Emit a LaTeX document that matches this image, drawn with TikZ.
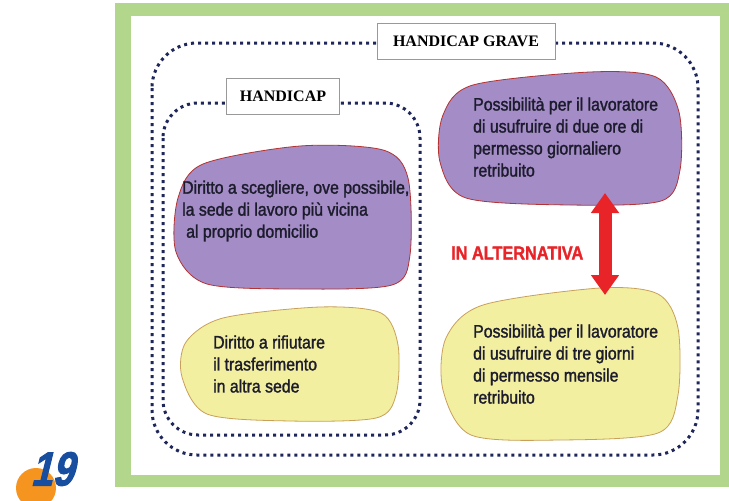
\documentclass[tikz,border=0pt]{standalone}
\usepackage{fontspec}
\setmainfont{Liberation Serif}
\newfontfamily\blobfont[FakeStretch=0.88,FakeBold=1.5]{Liberation Sans}
\newfontfamily\badgefont[FakeStretch=0.8,FakeSlant=0.25,FakeBold=2]{Liberation Sans}
\usetikzlibrary{arrows.meta,positioning}
\definecolor{framegreen}{RGB}{178,214,140}
\definecolor{navy}{RGB}{30,38,90}
\definecolor{lilac}{RGB}{164,140,198}
\definecolor{lilacedge}{RGB}{180,50,50}
\definecolor{cream}{RGB}{243,239,160}
\definecolor{creamedge}{RGB}{200,160,90}
\definecolor{altred}{RGB}{232,36,40}
\definecolor{ink}{RGB}{28,28,45}
\definecolor{badgeblue}{RGB}{24,78,160}
\definecolor{badgeorange}{RGB}{245,148,30}
\tikzstyle{dotline} = [draw=navy, line width=3pt, dash pattern=on 3pt off 4pt]
\tikzstyle{grouptag} = [draw=gray!80, fill=white, line width=0.8pt, text=black, font=\bfseries\fontsize{16}{16}\selectfont, minimum height=36pt, inner xsep=10pt]
\tikzstyle{purpleblob} = [draw=lilacedge, fill=lilac, line width=0.8pt]
\tikzstyle{yellowblob} = [draw=creamedge, fill=cream, line width=0.8pt]
\tikzstyle{blobtext} = [anchor=west, align=left, inner sep=0pt, text=ink, font=\blobfont\fontsize{18}{22}\selectfont]
\tikzstyle{twoway} = [draw=altred, line width=13pt, {Triangle[length=20pt,width=27pt]}-{Triangle[length=20pt,width=27pt]}]

\begin{document}
\begin{tikzpicture}[x=1pt, y=-1pt]
\useasboundingbox (0,0) rectangle (729,501);

% frame =============================
\fill[framegreen] (115,3) rectangle (729,487);
\fill[white] (131,16) rectangle (720,475);

% groups
\draw[dotline, rounded corners=45pt] (152,43) rectangle (698,455);
\draw[dotline, rounded corners=35pt] (163,103) rectangle (420,435);
\node[grouptag, minimum width=178pt] (grave) at (466,41) {HANDICAP GRAVE};
\node[grouptag, minimum width=113pt] (hc) at (283,96) {HANDICAP};

% blobs
\path[purpleblob] plot[smooth cycle] coordinates {(178,198) (203,164) (300,146) (383,150) (408,178) (410,255) (392,285) (300,289) (207,284) (176,252)};
\path[yellowblob] plot[smooth cycle] coordinates {(186,342) (223,318) (320,307) (381,313) (398,345) (396,395) (376,418) (290,421) (207,414) (182,377)};
\path[purpleblob] plot[smooth cycle] coordinates {(443,115) (473,85) (590,72) (656,77) (679,112) (680,170) (661,201) (570,205) (466,198) (440,162)};
\path[yellowblob] plot[smooth cycle] coordinates {(446,338) (483,305) (600,288) (658,294) (678,328) (678,395) (658,433) (560,440) (471,435) (443,390)};

% texts
\node[blobtext] (sede) at (182,211) {Diritto a scegliere, ove possibile,\\la sede di lavoro più vicina\\\hspace{4pt}al proprio domicilio};
\node[blobtext] (rifiuto) at (213,364) {Diritto a rifiutare\\il trasferimento\\in altra sede};
\node[blobtext] (ore) at (473,137) {Possibilità per il lavoratore\\di usufruire di due ore di\\permesso giornaliero\\retribuito};
\node[blobtext] (giorni) at (473,364) {Possibilità per il lavoratore\\di usufruire di tre giorni\\di permesso mensile\\retribuito};
\node[anchor=west, inner sep=0pt, text=altred, font=\blobfont\bfseries\fontsize{18.5}{18}\selectfont] (alt) at (451,253) {IN ALTERNATIVA};

% arrow
\coordinate (orebottom) at (605,193);
\coordinate (giornitop) at (605,295);
\path[twoway] (orebottom) -- (giornitop);

% badge
\fill[badgeorange] (36,488) circle (20pt);
\node[text=badgeblue, font=\badgefont\bfseries\fontsize{48}{48}\selectfont] (badge) at (52,469) {19};

\end{tikzpicture}
\end{document}
